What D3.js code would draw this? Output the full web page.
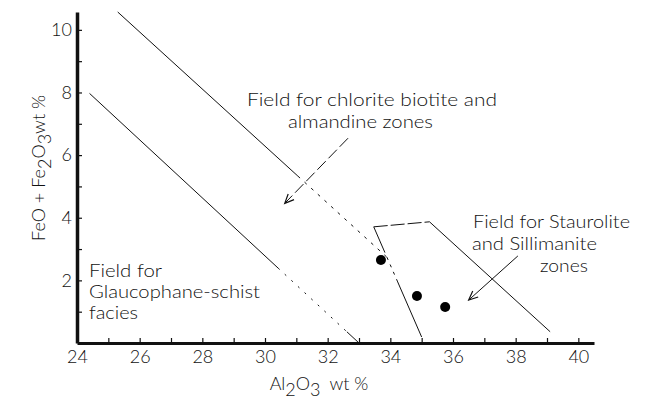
<!DOCTYPE html>
<html>
<head>
<meta charset="utf-8">
<script src="https://cdn.jsdelivr.net/npm/d3@7"></script>
<style>
  html, body { margin: 0; padding: 0; background: #fff; }
  svg { display: block; font-family: Lato, "Open Sans", sans-serif; font-weight: 300; }
</style>
</head>
<body>
<svg id="chart" width="652" height="400"></svg>
<script>
// Analysed samples: Al2O3 wt% and FeO + Fe2O3 wt%
const sampleAl2O3 = [33.7, 34.85, 35.75];
const sampleFeO = [2.65, 1.5, 1.15];

// Field boundaries, as [Al2O3, FeO + Fe2O3] vertices
const glaucophaneBoundary = [[24.4, 7.97], [33.0, 0.0]];
const chloriteBoundary = [[25.3, 10.57], [33.88, 2.75]];
const stauroliteField = [[35.0, 0.19], [33.47, 3.71], [35.25, 3.87], [39.1, 0.36]];

// Annotation arrows, tail -> head
const chloriteArrow = [[32.65, 6.54], [30.63, 4.46]];
const stauroliteArrow = [[38.07, 2.78], [36.5, 1.37]];

// Ticks
const xTicks = d3.range(24, 41);
const xTickLabels = [24, 26, 28, 30, 32, 34, 36, 38, 40];
const yTicks = d3.range(1, 11);
const yTickLabels = [2, 4, 6, 8, 10];

const svg = d3.select("#chart");
const ink = "#111";

const x = d3.scaleLinear().domain([24, 40.5]).range([77, 594]);
const y = d3.scaleLinear().domain([0, 10.57]).range([343, 12]);

// Axes with inward ticks
const xAxis = d3.axisBottom(x)
  .tickValues(xTicks)
  .tickSizeInner(-5).tickSizeOuter(0).tickPadding(7)
  .tickFormat(d => xTickLabels.includes(d) ? String(d) : "");
const yAxis = d3.axisLeft(y)
  .tickValues(yTicks)
  .tickSizeInner(-5).tickSizeOuter(0).tickPadding(5)
  .tickFormat(d => yTickLabels.includes(d) ? String(d) : "");

const gx = svg.append("g").attr("transform", `translate(0,${y(0)})`).call(xAxis);
const gy = svg.append("g").attr("transform", `translate(${x(24)},0)`).call(yAxis);
gx.select(".domain").attr("stroke", ink).attr("stroke-width", 3);
gy.select(".domain").attr("stroke", ink).attr("stroke-width", 3.5);
[gx, gy].forEach(g => {
  g.selectAll(".tick line").attr("stroke", ink).attr("stroke-width", 1.2);
  g.selectAll(".tick text").attr("fill", ink).attr("font-size", 18)
    .attr("font-family", "Lato, 'Open Sans', sans-serif").attr("font-weight", 300);
});

// Draw a straight boundary in pieces, each piece solid or dashed
function drawLine(pts, pieces) {
  const a = [x(pts[0][0]), y(pts[0][1])];
  const b = [x(pts[1][0]), y(pts[1][1])];
  const at = t => [a[0] + (b[0] - a[0]) * t, a[1] + (b[1] - a[1]) * t];
  pieces.forEach(p => {
    const s = at(p.from), e = at(p.to);
    svg.append("line")
      .attr("x1", s[0]).attr("y1", s[1]).attr("x2", e[0]).attr("y2", e[1])
      .attr("stroke", ink).attr("stroke-width", 1)
      .attr("stroke-dasharray", p.dash || null);
  });
}

drawLine(glaucophaneBoundary, [
  { from: 0, to: 0.70 },
  { from: 0.70, to: 0.955, dash: "2 7" },
  { from: 0.955, to: 1 }
]);
drawLine(chloriteBoundary, [
  { from: 0, to: 0.67 },
  { from: 0.67, to: 1, dash: "3 6" }
]);

// Staurolite / sillimanite field outline
drawLine([stauroliteField[0], stauroliteField[1]], [
  { from: 0, to: 0.5 },
  { from: 0.5, to: 0.79, dash: "3 5" },
  { from: 0.79, to: 1 }
]);
drawLine([stauroliteField[1], stauroliteField[2]], [{ from: 0, to: 1, dash: "14 3" }]);
drawLine([stauroliteField[2], stauroliteField[3]], [{ from: 0, to: 1 }]);

// Arrows with open heads
function drawArrow(pts, dash) {
  const t = [x(pts[0][0]), y(pts[0][1])];
  const h = [x(pts[1][0]), y(pts[1][1])];
  svg.append("line")
    .attr("x1", t[0]).attr("y1", t[1]).attr("x2", h[0]).attr("y2", h[1])
    .attr("stroke", ink).attr("stroke-width", 1)
    .attr("stroke-dasharray", dash || null);
  const ang = Math.atan2(t[1] - h[1], t[0] - h[0]);
  const len = 10, spread = 0.42;
  const w1 = [h[0] + len * Math.cos(ang + spread), h[1] + len * Math.sin(ang + spread)];
  const w2 = [h[0] + len * Math.cos(ang - spread), h[1] + len * Math.sin(ang - spread)];
  svg.append("path")
    .attr("d", `M${w1[0]},${w1[1]}L${h[0]},${h[1]}L${w2[0]},${w2[1]}`)
    .attr("fill", "none").attr("stroke", ink).attr("stroke-width", 1.2);
}
drawArrow(chloriteArrow, "12 4");
drawArrow(stauroliteArrow);

// Sample points
svg.append("g").selectAll("circle")
  .data(sampleAl2O3.map((v, i) => [v, sampleFeO[i]]))
  .join("circle")
  .attr("cx", d => x(d[0])).attr("cy", d => y(d[1]))
  .attr("r", 5).attr("fill", "#000");

// Field labels
const labels = [
  { text: "Field for chlorite biotite and", x: 247, y: 106, w: 250 },
  { text: "almandine zones", x: 288, y: 128, w: 145 },
  { text: "Field for Staurolite", x: 473, y: 228, w: 157 },
  { text: "and Sillimanite", x: 472, y: 250, w: 125 },
  { text: "zones", x: 540, y: 272, w: 48 },
  { text: "Field for", x: 89, y: 277, w: 73 },
  { text: "Glaucophane-schist", x: 89, y: 298, w: 171 },
  { text: "facies", x: 89, y: 319, w: 49 }
];
svg.append("g").selectAll("text")
  .data(labels)
  .join("text")
  .attr("x", d => d.x).attr("y", d => d.y)
  .attr("textLength", d => d.w).attr("lengthAdjust", "spacingAndGlyphs")
  .attr("font-size", 18).attr("fill", ink)
  .text(d => d.text);

// Axis titles with subscripts
const xTitle = svg.append("text")
  .attr("x", 319).attr("y", 390).attr("text-anchor", "middle")
  .attr("font-size", 18).attr("fill", ink);
xTitle.append("tspan").text("Al");
xTitle.append("tspan").attr("dy", 6).text("2");
xTitle.append("tspan").attr("dy", -6).text("O");
xTitle.append("tspan").attr("dy", 6).text("3");
xTitle.append("tspan").attr("dy", -6).text("\u2002wt %");

const yTitle = svg.append("text")
  .attr("transform", "translate(45,168) rotate(-90)")
  .attr("text-anchor", "middle")
  .attr("font-size", 18).attr("fill", ink);
yTitle.append("tspan").text("FeO + Fe");
yTitle.append("tspan").attr("dy", 6).text("2");
yTitle.append("tspan").attr("dy", -6).text("O");
yTitle.append("tspan").attr("dy", 6).text("3");
yTitle.append("tspan").attr("dy", -6).text("wt %");
</script>
</body>
</html>
